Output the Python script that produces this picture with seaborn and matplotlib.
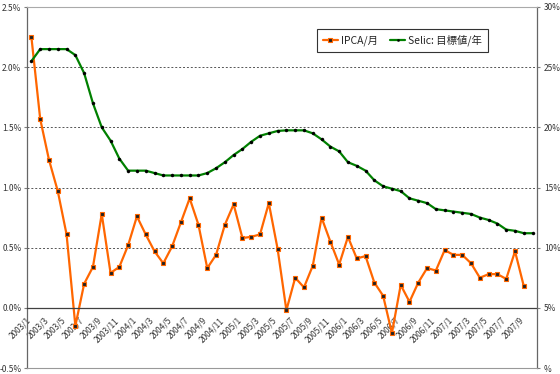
import numpy as np
import pandas as pd
import matplotlib
matplotlib.use("Agg")
import matplotlib.pyplot as plt
from matplotlib.transforms import ScaledTranslation
import seaborn as sns

# ---- data -------------------------------------------------------------
months = [f"{y}/{m}" for y in range(2003, 2008) for m in range(1, 13)][:58]  # 2003/1 .. 2007/10

ipca = [2.25, 1.57, 1.23, 0.97, 0.61, -0.15, 0.20, 0.34, 0.78, 0.29, 0.34, 0.52,
        0.76, 0.61, 0.47, 0.37, 0.51, 0.71, 0.91, 0.69, 0.33, 0.44, 0.69, 0.86,
        0.58, 0.59, 0.61, 0.87, 0.49, -0.02, 0.25, 0.17, 0.35, 0.75, 0.55, 0.36,
        0.59, 0.41, 0.43, 0.21, 0.10, -0.21, 0.19, 0.05, 0.21, 0.33, 0.31, 0.48,
        0.44, 0.44, 0.37, 0.25, 0.28, 0.28, 0.24, 0.47, 0.18]

selic = [25.5, 26.5, 26.5, 26.5, 26.5, 26.0, 24.5, 22.0, 20.0, 18.9, 17.4, 16.4,
         16.4, 16.4, 16.2, 16.0, 16.0, 16.0, 16.0, 16.0, 16.2, 16.6, 17.1, 17.7,
         18.2, 18.8, 19.3, 19.5, 19.7, 19.75, 19.75, 19.75, 19.5, 19.0, 18.4, 18.0,
         17.1, 16.8, 16.4, 15.6, 15.1, 14.9, 14.7, 14.1, 13.9, 13.7, 13.2, 13.1,
         13.0, 12.9, 12.8, 12.5, 12.3, 12.0, 11.5, 11.4, 11.2, 11.2]

left_ticks = [-0.5, 0.0, 0.5, 1.0, 1.5, 2.0, 2.5]
left_labels = ["-0.5%", "0.0%", "0.5%", "1.0%", "1.5%", "2.0%", "2.5%"]
right_ticks = [0, 5, 10, 15, 20, 25, 30]
right_labels = ["%", "5%", "10%", "15%", "20%", "25%", "30%"]

name_ipca = "IPCA/月"
name_selic = "Selic: 目標値/年"

df_ipca = pd.DataFrame({"pos": np.arange(len(ipca)), "value": ipca})
df_selic = pd.DataFrame({"pos": np.arange(len(selic)), "value": selic})

# ---- style ------------------------------------------------------------
sns.set_style("white")
plt.rcParams["font.family"] = ["Noto Sans CJK JP", "DejaVu Sans"]

fig = plt.figure(figsize=(5.6, 3.74), dpi=100)
ax = fig.add_axes([27 / 560, 1 - 368 / 374, (537 - 27) / 560, (368 - 7) / 374])
ax2 = ax.twinx()

orange = "#FF6600"
green = "#008000"

sns.lineplot(data=df_ipca, x="pos", y="value", ax=ax, color=orange, linewidth=1.6,
             marker="s", markersize=3.4, markerfacecolor="#222222",
             markeredgecolor=orange, markeredgewidth=0.8, label=name_ipca, legend=False)
sns.lineplot(data=df_selic, x="pos", y="value", ax=ax2, color=green, linewidth=1.6,
             marker="o", markersize=2.2, markerfacecolor="black",
             markeredgecolor="black", markeredgewidth=0.3, label=name_selic, legend=False)

n = len(months)
ax.set_xlim(-0.5, n - 0.5)
ax.set_ylim(-0.5, 2.5)
ax2.set_ylim(0, 30)

# left axis
ax.set_yticks(left_ticks)
ax.set_yticklabels(left_labels)
ax.tick_params(axis="y", labelsize=6, length=2, color="#808080", pad=2, labelcolor="#333333")
ax.yaxis.grid(True, color="#555555", linestyle=(0, (2, 2)), linewidth=0.7)
ax.xaxis.grid(False)

# right axis
ax2.set_yticks(right_ticks)
ax2.set_yticklabels(right_labels)
ax2.tick_params(axis="y", labelsize=6, length=2, color="#808080", pad=3, labelcolor="#333333")
ax2.grid(False)

# x-axis at zero with category-boundary ticks
ax.spines["bottom"].set_position(("data", 0))
ax.spines["bottom"].set_color("#404040")
ax.spines["bottom"].set_linewidth(0.9)
ax.set_xticks(np.arange(-0.5, n, 1.0))
ax.set_xticklabels([""] * len(np.arange(-0.5, n, 1.0)))
ax.tick_params(axis="x", which="major", direction="in", length=3, color="#404040", width=0.6)
ax.set_xticks(np.arange(0, n, 2), minor=True)
ax.set_xticklabels(months[::2], minor=True)
ax.tick_params(axis="x", which="minor", length=0, pad=5, labelsize=6, labelcolor="#333333")
shift = ScaledTranslation(-5 / 100, -1 / 100, fig.dpi_scale_trans)
for lab in ax.get_xticklabels(minor=True):
    lab.set_rotation(45)
    lab.set_ha("right")
    lab.set_va("top")
    lab.set_rotation_mode("anchor")
    lab.set_transform(lab.get_transform() + shift)

ax.set_xlabel("")
ax.set_ylabel("")
ax2.set_ylabel("")

# frame
ax.spines["left"].set_color("#666666")
ax.spines["left"].set_linewidth(0.9)
ax.spines["top"].set_visible(False)
ax.spines["right"].set_visible(False)
ax2.spines["left"].set_visible(False)
ax2.spines["right"].set_color("#666666")
ax2.spines["right"].set_linewidth(0.9)
ax2.spines["top"].set_color("#aaaaaa")
ax2.spines["top"].set_linewidth(0.8)
ax2.spines["bottom"].set_color("#999999")
ax2.spines["bottom"].set_linewidth(0.8)

# legend
h1 = ax.get_lines()[0]
h2 = ax2.get_lines()[0]
leg = ax2.legend([h1, h2], [name_ipca, name_selic], loc="center",
                 bbox_to_anchor=(402.5 / 560, 1 - 40.5 / 374), bbox_transform=fig.transFigure,
                 ncol=2, fontsize=7.5, frameon=True, fancybox=False, framealpha=1,
                 edgecolor="#333333", handlelength=1.4, handletextpad=0.3,
                 columnspacing=1.2, borderpad=0.55, markerscale=0.7)
leg.get_frame().set_linewidth(0.8)

fig.savefig("out.png", dpi=100)
